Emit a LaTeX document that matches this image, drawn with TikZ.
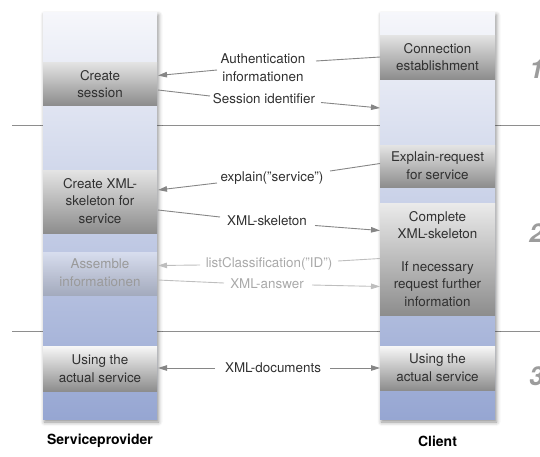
\documentclass[tikz,border=0pt]{standalone}
\usepackage{fontspec}
\setmainfont{TeX Gyre Heros}
\usetikzlibrary{arrows.meta,shadows.blur}
\definecolor{linegray}{HTML}{868686}
\definecolor{fadegray}{HTML}{BEBEBE}
\definecolor{txt}{HTML}{303030}
\definecolor{fadetxt}{HTML}{9A9A9A}
\definecolor{coltop}{HTML}{F6F7FB}
\definecolor{colmid}{HTML}{D5DBEB}
\definecolor{colbot}{HTML}{96A6D2}
\definecolor{boxtop}{HTML}{E4E4E4}
\definecolor{boxmid}{HTML}{C9C9C9}
\definecolor{boxbot}{HTML}{8D8D8D}
\definecolor{numgray}{HTML}{9C9C9C}
\definecolor{sepgray}{HTML}{8E8E8E}
\begin{document}
\begin{tikzpicture}[x=1pt,y=-1pt,
  body/.style={font=\fontsize{13.4}{17.6}\selectfont, text=txt, align=center, inner sep=0pt},
  lane/.style={draw=none, top color=coltop, middle color=colmid, bottom color=colbot,
    blur shadow={shadow xshift=1.5pt, shadow yshift=-3pt, shadow blur radius=4pt, shadow opacity=45}},
  stepbox/.style={draw=none, top color=boxtop, middle color=boxmid, bottom color=boxbot},
  usebox/.style={draw=none, top color=white!97!black, middle color=boxmid!85!white, bottom color=boxbot},
  fadebox/.style={draw=none, top color=white, middle color=white!85!black, bottom color=boxbot, fill opacity=0.4},
  msg/.style={draw=linegray, line width=0.9pt},
  msgtip/.style={msg, -{Triangle[length=9pt,width=5.5pt]}},
  fmsg/.style={draw=fadegray, line width=0.9pt},
  fmsgtip/.style={fmsg, -{Triangle[length=9pt,width=5.5pt]}},
  phase/.style={font=\fontsize{26}{26}\selectfont\bfseries\itshape, text=numgray, anchor=west, inner sep=0pt},
  role/.style={font=\fontsize{14}{16}\selectfont\bfseries, text=black, inner sep=0pt}
]
\useasboundingbox (0,0) rectangle (540,456);

% phase separators
\draw[sepgray, line width=0.9pt] (12,125) -- (540,125);
\draw[sepgray, line width=0.9pt] (12,331) -- (540,331);

% the two lanes
\path[lane] (43,12) rectangle (157,419);
\path[lane] (380,12) rectangle (495,419);

% service provider steps
\path[stepbox] (43,62) rectangle (157,105);
\path[stepbox] (43,170) rectangle (157,233);
\path[fadebox] (43,252) rectangle (157,295);
\path[usebox] (43,346) rectangle (157,391);

% client steps
\path[stepbox] (380,35) rectangle (495,79);
\path[stepbox] (380,145) rectangle (495,187);
\path[stepbox, top color=white!92!black] (380,203) rectangle (495,315);
\path[usebox] (380,346) rectangle (495,390);

% step texts
\node[body] (cs) at (100,84) {Create\\session};
\node[body] (cx) at (100,201) {Create XML-\\skeleton for\\service};
\node[body, text=fadetxt] (ai) at (100,273) {Assemble\\informationen};
\node[body] (us) at (100,368.5) {Using the\\actual service};
\node[body] (ce) at (437.5,57) {Connection\\establishment};
\node[body] (er) at (437.5,165.5) {Explain-request\\for service};
\node[body] (cp) at (437.5,225) {Complete\\XML-skeleton};
\node[body] (rf) at (437.5,284) {If necessary\\request further\\information};
\node[body] (uc) at (437.5,368) {Using the\\actual service};

% message labels
\node[body] (auth) at (263,68) {Authentication\\informationen};
\node[body] (sid) at (264,98.5) {Session identifier};
\node[body] (expl) at (272,178.5) {explain("service")};
\node[body] (skel) at (267,221) {XML-skeleton};
\node[body, text=fadetxt!85!white] (lc) at (269,264) {listClassification("ID")};
\node[body, text=fadetxt!85!white] (xa) at (267,284) {XML-answer};
\node[body] (docs) at (273,368) {XML-documents};

% message end points
\coordinate (authA) at (380,57);   \coordinate (authB) at (316,61);
\coordinate (authC) at (217,70);   \coordinate (authD) at (158,75.5);
\coordinate (sidA) at (158,90);    \coordinate (sidB) at (210,96);
\coordinate (sidC) at (321,102.5); \coordinate (sidD) at (380,108);
\coordinate (explA) at (380,163.5);\coordinate (explB) at (330,171);
\coordinate (explC) at (217,183);  \coordinate (explD) at (158,190);
\coordinate (skelA) at (158,210);  \coordinate (skelB) at (220,217);
\coordinate (skelC) at (315,225.5);\coordinate (skelD) at (380,230.5);
\coordinate (lcA) at (380,258.5);  \coordinate (lcB) at (338,261);
\coordinate (lcC) at (200,265);    \coordinate (lcD) at (158,265.5);
\coordinate (xaA) at (158,280);    \coordinate (xaB) at (224,283);
\coordinate (xaC) at (312,285);    \coordinate (xaD) at (380,286.5);
\coordinate (docsA) at (215,368);  \coordinate (docsB) at (158,368);
\coordinate (docsC) at (330,368);  \coordinate (docsD) at (380,368);

% messages
\draw[msg] (authA) -- (authB);
\draw[msgtip] (authC) -- (authD);
\draw[msg] (sidA) -- (sidB);
\draw[msgtip] (sidC) -- (sidD);
\draw[msg] (explA) -- (explB);
\draw[msgtip] (explC) -- (explD);
\draw[msg] (skelA) -- (skelB);
\draw[msgtip] (skelC) -- (skelD);
\draw[fmsg] (lcA) -- (lcB);
\draw[fmsgtip] (lcC) -- (lcD);
\draw[fmsg] (xaA) -- (xaB);
\draw[fmsgtip] (xaC) -- (xaD);
\draw[msgtip] (docsA) -- (docsB);
\draw[msgtip] (docsC) -- (docsD);

% phase numbers, running off the right edge
\node[phase] (p1) at (529,69) {1};
\node[phase] (p2) at (529,233) {2};
\node[phase] (p3) at (529,376) {3};

% roles
\node[role] (sp) at (100,441) {Serviceprovider};
\node[role] (cl) at (437.5,441) {Client};
\end{tikzpicture}
\end{document}
